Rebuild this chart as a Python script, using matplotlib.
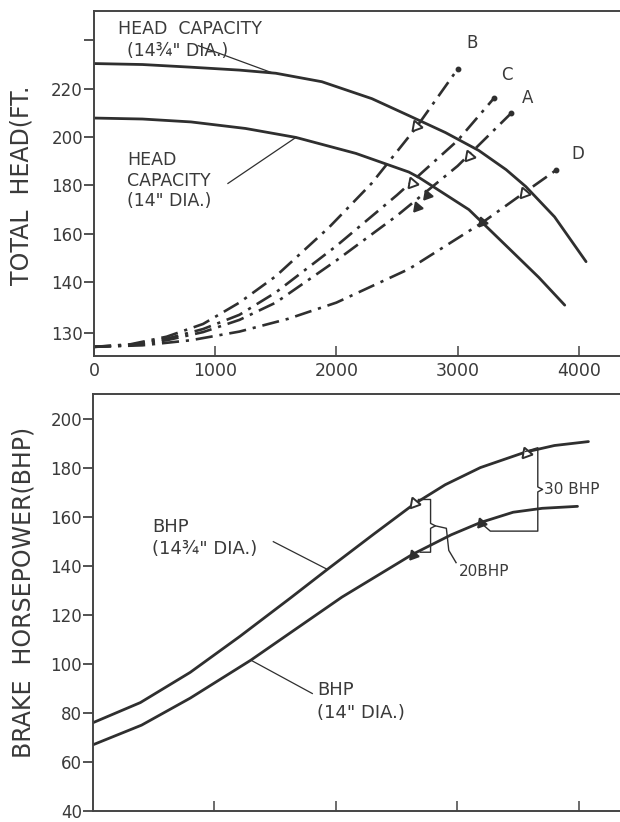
import numpy as np
import matplotlib
matplotlib.use("Agg")
import matplotlib.pyplot as plt

# ---- top panel: head-capacity curves (flow gpm, head ft) ----
q_head_hi = [0, 400, 800, 1200, 1500, 1880, 2293, 2598, 2900, 3175, 3400, 3563, 3800, 4060]
h_head_hi = [230.3, 229.9, 228.8, 227.6, 226.3, 222.8, 215.8, 208.8, 201.8, 194.4, 186.5, 179.5, 167, 148.5]
q_head_lo = [0, 400, 800, 1250, 1666, 2161, 2598, 2680, 3093, 3423, 3670, 3884]
h_head_lo = [207.8, 207.4, 206.2, 203.5, 199.8, 193.2, 185.5, 183.3, 170, 154, 142, 135.5]

# system curves A-D (dash-dot)
q_sys = {"B": [0, 300, 600, 900, 1200, 1500, 1940, 2290, 2660, 3000],
         "C": [0, 300, 600, 900, 1200, 1500, 2000, 2500, 3000, 3300],
         "A": [0, 300, 600, 900, 1200, 1500, 2000, 2500, 3000, 3440],
         "D": [0, 400, 800, 1200, 1600, 2000, 2600, 3200, 3550, 3810]}
h_sys = {"B": [127.3, 127.8, 129.3, 131.8, 136, 142.5, 162.7, 180.8, 204, 228],
         "C": [127.3, 127.7, 128.9, 130.8, 133.6, 138, 155, 176, 198.5, 216],
         "A": [127.3, 127.6, 128.6, 130.2, 132.6, 136, 149, 167.5, 188, 209.7],
         "D": [127.3, 127.6, 128.6, 130.3, 132.8, 136, 145.5, 164.5, 177, 186.2]}
sys_lbl_off = {"B": (6, 12), "C": (5, 10), "A": (8, 5), "D": (11, 5)}

# operating-point markers on the head curves
mk_open_q = [2656, 3093, 3546, 2623]
mk_open_h = [204.5, 192, 177, 181]
mk_fill_q = [2746, 2664, 3200]
mk_fill_h = [176, 171, 164.8]

head_ticks = [130, 140, 160, 180, 200, 220, 240]
head_ticklbl = ["130", "140", "160", "180", "200", "220", ""]
flow_ticks = [0, 1000, 2000, 3000, 4000]

# ---- bottom panel: brake horsepower ----
q_bhp_hi = [0, 390, 800, 1210, 1625, 1930, 2310, 2640, 2900, 3190, 3560, 3800, 4080]
h_bhp_hi = [76, 84.2, 96.5, 111.2, 126.8, 138.5, 152.8, 165, 173, 180, 186.3, 189, 190.6]
q_bhp_lo = [0, 400, 800, 1300, 1650, 2050, 2630, 2950, 3190, 3460, 3700, 3990]
h_bhp_lo = [67, 75, 86, 101.5, 113.5, 127.2, 144.6, 152.6, 157.6, 161.8, 163.4, 164.2]
bhp_open_q = [2640, 3563]
bhp_open_h = [165.5, 186.1]
bhp_fill_q = [2635, 3192]
bhp_fill_h = [144.5, 157.6]
bhp_ticks = [40, 60, 80, 100, 120, 140, 160, 180, 200]

INK = "#2f2f2f"
TXT = "#3a3a3a"
DASHDOT = (0, (6.5, 2.6, 1.2, 2.6))
TRI = (3, 0, 140)

plt.rcParams["font.family"] = "DejaVu Sans"


def fwd(y):
    # axis is drawn with a stretched span below 140 ft, as in the original
    y = np.asarray(y, float)
    return np.where(y >= 140, y, 140 - 2.1 * (140 - y))


def inv(v):
    v = np.asarray(v, float)
    return np.where(v >= 140, v, 140 - (140 - v) / 2.1)


fig = plt.figure(figsize=(6.2, 8.22), dpi=100)
ax1 = fig.add_axes([94 / 620, 1 - 356 / 822, 1 - 94 / 620, 345 / 822])
ax2 = fig.add_axes([93 / 620, 1 - 811 / 822, 1 - 93 / 620, 417 / 822])

for ax in (ax1, ax2):
    ax.set_xlim(0, 4340)
    ax.spines["right"].set_visible(False)
    for s in ("left", "top", "bottom"):
        ax.spines[s].set_color("#444444")
        ax.spines[s].set_linewidth(1.4)
    ax.tick_params(axis="y", direction="out", length=7, width=1.3,
                   color="#444444", labelsize=12, labelcolor=TXT, pad=1)
    ax.tick_params(axis="x", direction="in", length=7, width=1.1,
                   color="#444444", labelsize=12.5, labelcolor=TXT, pad=4)

# top panel
ax1.set_yscale("function", functions=(fwd, inv))
ax1.set_ylim(125.5, 252)
ax1.set_yticks(head_ticks)
ax1.set_yticklabels(head_ticklbl)
ax1.set_xticks(flow_ticks)
ax1.set_xticklabels([str(v) for v in flow_ticks])
ax1.plot(q_head_hi, h_head_hi, color=INK, lw=2.0, solid_capstyle="round",
         solid_joinstyle="round")
ax1.plot(q_head_lo, h_head_lo, color=INK, lw=2.0, solid_capstyle="round",
         solid_joinstyle="round")
for k in ("B", "C", "A", "D"):
    ax1.plot(q_sys[k], h_sys[k], color=INK, lw=1.9, ls=DASHDOT)
    ax1.plot(q_sys[k][-1], h_sys[k][-1], "o", color=INK, ms=3.2)
    ax1.annotate(k, (q_sys[k][-1], h_sys[k][-1]), xytext=sys_lbl_off[k],
                 textcoords="offset points", fontsize=12, color=TXT,
                 ha="left", va="bottom")
ax1.plot(mk_open_q, mk_open_h, ls="none", marker=TRI, ms=9, mfc="white",
         mec=INK, mew=1.4)
ax1.plot(mk_fill_q, mk_fill_h, ls="none", marker=TRI, ms=8, mfc=INK,
         mec=INK, mew=1.2)

ax1.text(200, 244.5, "HEAD  CAPACITY", fontsize=12.5, color=TXT,
         va="center", ha="left")
ax1.text(270, 235.5, "(14¾\" DIA.)", fontsize=12.5, color=TXT,
         va="center", ha="left")
ax1.plot([860, 1480], [237.7, 226.3], color=INK, lw=0.9)
ax1.text(272, 182, "HEAD\nCAPACITY\n(14\" DIA.)", fontsize=12.5, color=TXT,
         va="center", ha="left", linespacing=1.15)
ax1.plot([1105, 1666], [180.8, 199.8], color=INK, lw=0.9)

# bottom panel
ax2.set_ylim(40, 210)
ax2.set_yticks(bhp_ticks)
ax2.set_xticks(flow_ticks[1:])
ax2.set_xticklabels([])
ax2.plot(q_bhp_hi, h_bhp_hi, color=INK, lw=2.0, solid_capstyle="round",
         solid_joinstyle="round")
ax2.plot(q_bhp_lo, h_bhp_lo, color=INK, lw=2.0, solid_capstyle="round",
         solid_joinstyle="round")
ax2.plot(bhp_open_q, bhp_open_h, ls="none", marker=TRI, ms=9, mfc="white",
         mec=INK, mew=1.4)
ax2.plot(bhp_fill_q, bhp_fill_h, ls="none", marker=TRI, ms=8, mfc=INK,
         mec=INK, mew=1.2)

ax2.text(487, 151.2, "BHP\n(14¾\" DIA.)", fontsize=13, color=TXT,
         va="center", ha="left", linespacing=1.3)
ax2.plot([1485, 1930], [149.8, 138.5], color=INK, lw=0.9)
ax2.text(1847, 84.6, "BHP\n(14\" DIA.)", fontsize=13, color=TXT,
         va="center", ha="left", linespacing=1.35)
ax2.plot([1806, 1300], [87.9, 101.5], color=INK, lw=0.9)

# 20 BHP bracket between the first pair of markers
bx = bhp_open_q[0] + 140
top, bot = bhp_open_h[0] + 1.5, bhp_fill_h[0] + 1
mid = (top + bot) / 2
ax2.plot([bhp_open_q[0] + 40, bx, bx, bx + 40, bx, bx, bhp_fill_q[0] + 60],
         [top, top, mid + 1, mid, mid - 1, bot, bot], color=INK, lw=1.0)
ax2.plot([bx + 40, bx + 130, bx + 150, bx + 210], [mid, mid - 1, mid - 10, mid - 15],
         color=INK, lw=1.0)
ax2.text(3010, 137.6, "20BHP", fontsize=11, color=TXT, va="center", ha="left")

# 30 BHP bracket
bx = bhp_open_q[1] + 100
top, bot = bhp_open_h[1] + 2, bhp_fill_h[1] - 3.5
mid = (top + bot) / 2
ax2.plot([bhp_open_q[1], bx, bx, bx + 40, bx, bx, bhp_fill_q[1] + 80,
          bhp_fill_q[1] + 10],
         [top - 1.5, top, mid + 1, mid, mid - 1, bot, bot, bhp_fill_h[1] - 0.5],
         color=INK, lw=1.0)
ax2.text(bx + 50, mid, "30 BHP", fontsize=11, color=TXT, va="center", ha="left")

fig.text(22 / 620, 1 - 185 / 822, "TOTAL  HEAD(FT.", rotation=90, fontsize=17,
         color=TXT, ha="center", va="center")
fig.text(24 / 620, 1 - 592 / 822, "BRAKE  HORSEPOWER(BHP)", rotation=90,
         fontsize=17, color=TXT, ha="center", va="center")

fig.savefig("out.png", dpi=100, facecolor="white")
